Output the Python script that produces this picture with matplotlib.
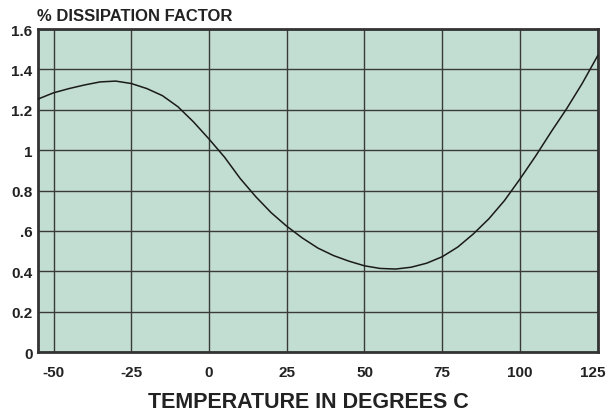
import matplotlib
matplotlib.use('Agg')
import matplotlib.pyplot as plt
from matplotlib.transforms import ScaledTranslation

# Values
temp_c = [-55, -50, -45, -40, -35, -30, -25, -20, -15, -10, -5, 0, 5, 10, 15,
          20, 25, 30, 35, 40, 45, 50, 55, 60, 65, 70, 75, 80, 85, 90, 95, 100,
          105, 110, 115, 120, 125]
dissipation = [1.253, 1.284, 1.305, 1.323, 1.338, 1.342, 1.330, 1.305, 1.270,
               1.215, 1.140, 1.055, 0.965, 0.860, 0.770, 0.690, 0.623, 0.565,
               0.515, 0.478, 0.450, 0.427, 0.414, 0.411, 0.420, 0.440, 0.472,
               0.520, 0.585, 0.660, 0.750, 0.857, 0.970, 1.090, 1.205, 1.330,
               1.468]

x_ticks = [-50, -25, 0, 25, 50, 75, 100, 125]
x_labels = ['-50', '-25', '0', '25', '50', '75', '100', '125']
y_ticks = [0, 0.2, 0.4, 0.6, 0.8, 1.0, 1.2, 1.4, 1.6]
y_labels = ['0', '0.2', '0.4', '.6', '0.8', '1', '1.2', '1.4', '1.6']

plt.rcParams['font.family'] = ['Liberation Sans', 'DejaVu Sans']
plt.rcParams['font.weight'] = 'bold'

fig = plt.figure(figsize=(6.07, 4.14), dpi=100)
ax = fig.add_axes([0.0626, 0.1473, 0.9221, 0.7802])
ax.set_facecolor('#c2ddd2')

ax.plot(temp_c, dissipation, color='#1a1a1a', lw=1.1, zorder=3)

ax.set_xlim(-55, 125)
ax.set_ylim(0, 1.6)
ax.set_xticks(x_ticks)
ax.set_xticklabels(x_labels)
ax.set_yticks(y_ticks)
ax.set_yticklabels(y_labels)
ax.tick_params(length=0, labelsize=11, colors='#222222')
ax.tick_params(axis='x', pad=9)
ax.tick_params(axis='y', pad=4)

# nudge the last x label inward so it stays on the canvas
last = ax.get_xticklabels()[-1]
last.set_transform(last.get_transform() + ScaledTranslation(-5 / 100, 0, fig.dpi_scale_trans))

ax.grid(True, color='#3a3a3a', lw=1.0)
ax.set_axisbelow(True)
for sp in ax.spines.values():
    sp.set_linewidth(2.0)
    sp.set_color('#333333')

fig.text(0.508, 0.0145, 'TEMPERATURE IN DEGREES C', fontsize=15.5, fontweight='bold',
         color='#222222', ha='center', va='baseline')
fig.text(0.0605, 0.95, '% DISSIPATION FACTOR', fontsize=12, fontweight='bold',
         color='#222222', ha='left', va='baseline')

fig.savefig('out.png', dpi=100)
